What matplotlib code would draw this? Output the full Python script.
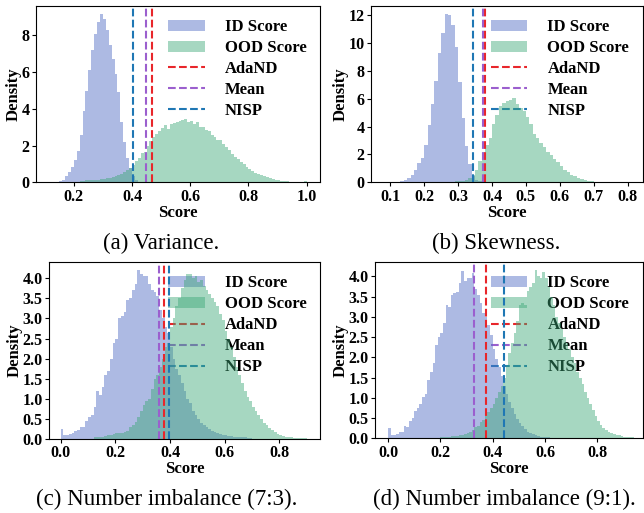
import numpy as np
import matplotlib
matplotlib.use('Agg')
import matplotlib.pyplot as plt

plt.rcParams['font.family'] = ['Liberation Serif', 'DejaVu Serif']
plt.rcParams['font.weight'] = 'bold'

# histogram densities, bins of width 0.01 starting at *_start
BIN = 0.01

# (a) variance
var_id_start = 0.15
var_id = [0.05, 0.15, 0.35, 0.55, 0.85, 1.20, 1.70, 2.60, 3.90, 5.00,
          6.10, 7.20, 8.10, 8.75, 9.15, 8.90, 8.30, 7.50, 6.70, 5.90,
          4.90, 3.30, 2.20, 1.35, 0.80, 0.35, 0.12, 0.03]
var_ood_start = 0.22
var_ood = [0.05, 0.08, 0.10, 0.12, 0.13, 0.15, 0.15, 0.17, 0.20, 0.22,
           0.25, 0.30, 0.35, 0.40, 0.45, 0.55, 0.65, 0.80, 0.95, 1.15,
           1.30, 1.60, 1.65, 2.00, 2.25, 2.45, 2.65, 2.80, 2.95, 3.10,
           2.90, 3.20, 3.25, 3.30, 3.35, 3.40, 3.45, 3.30, 3.35, 3.20,
           3.30, 3.00, 3.00, 2.85, 2.80, 2.60, 2.45, 2.30, 2.30, 2.10,
           1.90, 1.75, 1.55, 1.40, 1.25, 1.10, 0.98, 0.85, 0.75, 0.60,
           0.50, 0.45, 0.38, 0.33, 0.27, 0.22, 0.18, 0.15, 0.10, 0.08,
           0.07, 0.05, 0.02, 0.01, 0.00, 0.00, 0.00, 0.08]
var_thr = [0.470, 0.448, 0.402]
var_xticks = [0.2, 0.4, 0.6, 0.8, 1.0]
var_yticks = [0, 2, 4, 6, 8]

# (b) skewness
skew_id_start = 0.13
skew_id = [0.08, 0.20, 0.30, 0.55, 0.85, 1.40, 1.75, 2.70, 4.10, 5.60,
           7.30, 9.30, 10.70, 12.05, 12.00, 11.30, 9.70, 7.20, 4.60, 2.60,
           1.30, 0.45, 0.20, 0.08]
skew_ood_start = 0.28
skew_ood = [0.03, 0.06, 0.08, 0.12, 0.18, 0.30, 0.50, 0.90, 1.50, 2.20,
            2.70, 3.20, 4.20, 4.80, 5.50, 5.70, 5.80, 5.90, 6.05, 5.60,
            5.35, 5.10, 4.70, 4.20, 3.50, 3.20, 2.85, 2.55, 2.20, 1.95,
            1.70, 1.45, 1.15, 0.90, 0.72, 0.55, 0.42, 0.32, 0.24, 0.18,
            0.12, 0.08, 0.04, 0.02]
skew_thr = [0.378, 0.372, 0.345]
skew_xticks = [0.1, 0.2, 0.3, 0.4, 0.5, 0.6, 0.7, 0.8]
skew_yticks = [0, 2, 4, 6, 8, 10, 12]

# (c) number imbalance 7:3
n73_id_start = 0.0
n73_id = [0.25, 0.08, 0.10, 0.12, 0.15, 0.18, 0.22, 0.28, 0.30, 0.45,
          0.55, 0.60, 0.80, 1.20, 1.10, 1.30, 1.60, 1.70, 2.00, 2.40,
          2.50, 3.00, 3.05, 3.15, 3.45, 3.50, 3.70, 3.85, 4.20, 4.10,
          4.06, 4.06, 3.85, 3.70, 3.65, 3.55, 3.20, 3.00, 2.80, 2.65,
          2.30, 2.00, 1.75, 1.60, 1.40, 1.20, 1.00, 0.90, 0.70, 0.60,
          0.50, 0.40, 0.33, 0.28, 0.25, 0.20, 0.16, 0.14, 0.12, 0.10,
          0.08, 0.07, 0.06, 0.05, 0.04, 0.04, 0.03, 0.03, 0.02, 0.02]
n73_ood_start = 0.12
n73_ood = [0.03, 0.03, 0.04, 0.05, 0.06, 0.08, 0.10, 0.12, 0.13, 0.15,
           0.15, 0.17, 0.20, 0.30, 0.35, 0.42, 0.55, 0.70, 0.85, 0.95,
           1.00, 1.25, 1.50, 1.60, 1.80, 2.00, 2.30, 2.40, 2.80, 3.00,
           3.30, 3.50, 3.75, 3.95, 4.10, 4.12, 4.00, 4.05, 3.90, 3.95,
           3.80, 3.70, 3.60, 3.50, 3.40, 3.30, 3.10, 2.95, 2.70, 2.50,
           2.30, 2.05, 1.80, 1.60, 1.40, 1.20, 1.05, 0.95, 0.80, 0.68,
           0.58, 0.48, 0.40, 0.33, 0.27, 0.22, 0.17, 0.12, 0.09, 0.07,
           0.05, 0.04, 0.03, 0.02, 0.02, 0.01, 0.01, 0.01]
n73_thr = [0.378, 0.360, 0.396]

# (d) number imbalance 9:1
n91_id_start = 0.0
n91_id = [0.25, 0.09, 0.09, 0.10, 0.15, 0.15, 0.30, 0.28, 0.42, 0.50,
          0.67, 0.75, 0.85, 1.02, 1.10, 1.45, 1.65, 1.85, 2.30, 2.50,
          2.60, 2.85, 3.30, 3.25, 3.55, 3.58, 3.62, 3.85, 4.13, 3.90,
          3.95, 3.95, 4.08, 3.70, 3.54, 3.35, 3.10, 3.00, 2.80, 2.55,
          2.20, 1.95, 1.75, 1.55, 1.30, 1.10, 0.90, 0.75, 0.60, 0.48,
          0.38, 0.30, 0.22, 0.16, 0.12, 0.10, 0.08, 0.06, 0.04, 0.03,
          0.02, 0.02, 0.01, 0.01]
n91_ood_start = 0.20
n91_ood = [0.02, 0.03, 0.03, 0.04, 0.05, 0.05, 0.06, 0.07, 0.08, 0.10,
           0.12, 0.15, 0.20, 0.28, 0.30, 0.40, 0.45, 0.55, 0.65, 0.75,
           0.85, 1.00, 1.15, 1.30, 1.50, 1.80, 2.10, 2.35, 2.60, 2.90,
           3.30, 3.35, 3.30, 3.65, 3.75, 3.85, 4.15, 4.00, 3.95, 4.10,
           3.95, 3.75, 3.50, 3.30, 3.00, 2.85, 2.70, 2.50, 2.35, 2.20,
           2.00, 1.85, 1.65, 1.50, 1.35, 1.15, 1.00, 0.85, 0.70, 0.55,
           0.42, 0.33, 0.26, 0.20, 0.15, 0.12, 0.10, 0.08, 0.07, 0.05,
           0.04, 0.03, 0.02, 0.02]
n91_thr = [0.374, 0.328, 0.445]

imb_xticks = [0.0, 0.2, 0.4, 0.6, 0.8]
imb_yticks = [0.0, 0.5, 1.0, 1.5, 2.0, 2.5, 3.0, 3.5, 4.0]

methods = ['AdaND', 'Mean', 'NISP']
captions = ['(a) Variance.', '(b) Skewness.',
            '(c) Number imbalance (7:3).', '(d) Number imbalance (9:1).']

ID_C = '#5470c6'
OOD_C = '#3ba776'
LINE_C = ['#e8262b', '#9b5fce', '#1f77b4']


def panel(ax, id_start, id_d, ood_start, ood_d, thr, xlim, xt, yt, yfmt):
    e1 = id_start + BIN * np.arange(len(id_d) + 1)
    e2 = ood_start + BIN * np.arange(len(ood_d) + 1)
    h1 = ax.stairs(id_d, e1, fill=True, color=ID_C, alpha=0.48, lw=0, label='ID Score')
    h2 = ax.stairs(ood_d, e2, fill=True, color=OOD_C, alpha=0.45, lw=0, label='OOD Score')
    hs = [h1, h2]
    for m, t, c in zip(methods, thr, LINE_C):
        hs.append(ax.axvline(t, ls='--', lw=1.5, color=c, label=m))
    ax.set_xlim(*xlim)
    ax.set_ylim(bottom=0)
    ax.set_xticks(xt, [f'{v:.1f}' for v in xt])
    ax.set_yticks(yt, [yfmt.format(v) for v in yt])
    leg = ax.legend(handles=hs, loc='upper right', frameon=False,
                    prop={'weight': 'bold', 'size': 12}, handlelength=2.2,
                    labelspacing=0.3, handletextpad=1.2, borderaxespad=0.4)
    leg.set_zorder(0.5)
    ax.set_xlabel('Score', fontsize=12, fontweight='bold', labelpad=0)
    ax.set_ylabel('Density', fontsize=12, fontweight='bold', labelpad=0)
    ax.tick_params(labelsize=11.5, length=3, pad=1.5)
    for lab in ax.get_xticklabels() + ax.get_yticklabels():
        lab.set_fontweight('bold')


fig = plt.figure(figsize=(6.44, 5.13), dpi=100)
W, H = 644, 513
boxes = [(36, 6, 320, 182.3), (371, 6, 642.5, 182.3),
         (49, 262, 320, 438.7), (375, 262, 642.5, 438.3)]
axs = [fig.add_axes([l / W, 1 - b / H, (r - l) / W, (b - t) / H]) for l, t, r, b in boxes]

panel(axs[0], var_id_start, var_id, var_ood_start, var_ood, var_thr,
      (0.07, 1.046), var_xticks, var_yticks, '{:.0f}')
panel(axs[1], skew_id_start, skew_id, skew_ood_start, skew_ood, skew_thr,
      (0.043, 0.844), skew_xticks, skew_yticks, '{:.0f}')
panel(axs[2], n73_id_start, n73_id, n73_ood_start, n73_ood, n73_thr,
      (-0.043, 0.949), imb_xticks, imb_yticks, '{:.1f}')
panel(axs[3], n91_id_start, n91_id, n91_ood_start, n91_ood, n91_thr,
      (-0.05, 0.973), imb_xticks, imb_yticks, '{:.1f}')

cap_pos = [(161, 243), (496, 243), (167, 499), (504, 499)]
for (x, y), txt in zip(cap_pos, captions):
    fig.text(x / W, 1 - y / H, txt, ha='center', va='center',
             fontsize=16.5, fontweight='normal')

fig.savefig('out.png', dpi=100)
